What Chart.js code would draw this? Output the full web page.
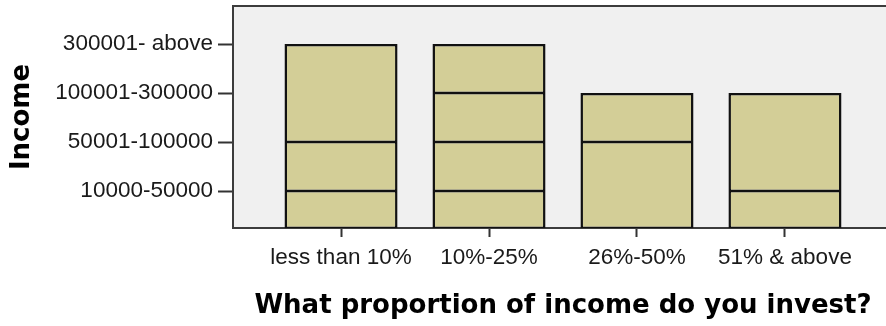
<!DOCTYPE html>
<html>
<head>
<meta charset="utf-8">
<script src="https://cdn.jsdelivr.net/npm/chart.js@4"></script>
<style>
  html, body { margin: 0; padding: 0; background: #fff; overflow: hidden; }
  #wrap { width: 900px; height: 326px; }
</style>
</head>
<body>
<div id="wrap"><canvas id="myCanvas" width="900" height="326"></canvas></div>
<script>
// x categories and y (income) levels
const categories = ['less than 10%', '10%-25%', '26%-50%', '51% & above'];
const incomeLevels = ['10000-50000', '50001-100000', '100001-300000', '300001- above'];

// where each segment of a bar ends, as income level (1 = 10000-50000 ... 4 = 300001- above)
// the first segment of every bar starts at the floor of the axis
const lessThan10 = [1, 2, 4];
const from10to25 = [1, 2, 3, 4];
const from26to50 = [2, 3];
const above51 = [1, 3];
const segmentTops = [lessThan10, from10to25, from26to50, above51];

// axis range picked so the 222px plot height gives 49px per level
const yFloor = 1 - 37 / 49;
const yCeil = yFloor + 222 / 49;

let datasets = [];
for (let k = 0; k < 4; k++) {
    let pts = [];
    segmentTops.forEach((tops, i) => {
        if (tops[k] !== undefined) {
            let lo = k === 0 ? yFloor : tops[k - 1];
            pts.push({ x: i + 1, y: [lo, tops[k]], last: k === tops.length - 1 });
        }
    });
    datasets.push({
        data: pts,
        backgroundColor: '#D3CE97',
        borderColor: '#111',
        // thinner inner edges so two stacked segments make one line, thicker outline
        borderWidth: (c) => {
            let raw = c.raw || {};
            return { left: 2.5, right: 2.5, top: raw.last ? 2.5 : 1.5, bottom: 1.5 };
        },
        borderSkipped: false,
        inflateAmount: 0,
        barPercentage: 0.764,
        categoryPercentage: 1
    });
}

// grey plot background + frame like the SPSS output
const plotFrame = {
    id: 'plotFrame',
    beforeDatasetsDraw(chart) {
        const { ctx, chartArea: a } = chart;
        ctx.save();
        ctx.fillStyle = '#F0F0F0';
        ctx.fillRect(a.left, a.top, a.right - a.left, a.bottom - a.top);
        ctx.strokeStyle = '#3c3c3c';
        ctx.lineWidth = 2;
        ctx.strokeRect(a.left, a.top, a.right - a.left, a.bottom - a.top);
        ctx.restore();
    }
};

const tickFont = { family: '"Liberation Sans", Arial, sans-serif', size: 22.5 };
const titleFont = { family: '"DejaVu Sans", Verdana, sans-serif', size: 26, weight: 'bold' };

new Chart(document.getElementById('myCanvas').getContext('2d'), {
    type: 'bar',
    data: { datasets: datasets },
    plugins: [plotFrame],
    options: {
        responsive: false,
        animation: false,
        devicePixelRatio: 1,
        layout: { padding: { top: 6, right: 7, bottom: 0, left: 0 } },
        plugins: { legend: { display: false }, tooltip: { enabled: false } },
        scales: {
            x: {
                type: 'linear',
                stacked: true,
                offset: false,
                min: 0.27,
                max: 4.73,
                afterBuildTicks: (s) => { s.ticks = categories.map((c, i) => ({ value: i + 1 })); },
                afterFit: (s) => { s.height = 98; s.paddingLeft = 0; s.paddingRight = 0; },
                ticks: {
                    callback: (v) => categories[v - 1],
                    font: tickFont,
                    color: '#1a1a1a',
                    padding: 7,
                    maxRotation: 0,
                    autoSkip: false
                },
                grid: { offset: false, drawOnChartArea: false, tickLength: 9, tickColor: '#333', tickWidth: 2 },
                border: { display: false },
                title: {
                    display: true,
                    text: 'What proportion of income do you invest?',
                    font: titleFont,
                    color: '#000',
                    padding: { top: 0, bottom: 4 }
                }
            },
            y: {
                type: 'linear',
                min: yFloor,
                max: yCeil,
                afterBuildTicks: (s) => { s.ticks = incomeLevels.map((c, i) => ({ value: i + 1 })); },
                afterFit: (s) => { s.width = 233; s.paddingTop = 0; s.paddingBottom = 0; },
                ticks: {
                    callback: (v) => incomeLevels[v - 1],
                    font: tickFont,
                    color: '#1a1a1a',
                    padding: 5
                },
                grid: { drawOnChartArea: false, tickLength: 15, tickColor: '#333', tickWidth: 2 },
                border: { display: false },
                title: {
                    display: true,
                    text: 'Income',
                    font: titleFont,
                    color: '#000',
                    padding: { top: 6.5, bottom: 0 }
                }
            }
        }
    }
});
</script>
</body>
</html>
